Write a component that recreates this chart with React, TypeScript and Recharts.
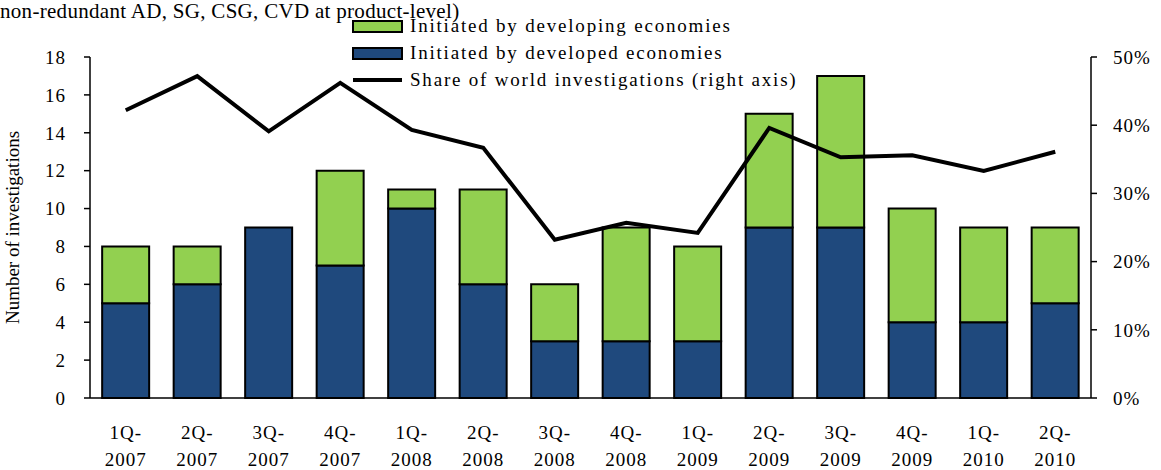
import { ComposedChart, Bar, Line, XAxis, YAxis } from 'recharts'

const quarters = ['1Q-2007', '2Q-2007', '3Q-2007', '4Q-2007', '1Q-2008', '2Q-2008', '3Q-2008', '4Q-2008', '1Q-2009', '2Q-2009', '3Q-2009', '4Q-2009', '1Q-2010', '2Q-2010']
const developed = [5, 6, 9, 7, 10, 6, 3, 3, 3, 9, 9, 4, 4, 5]
const developing = [3, 2, 0, 5, 1, 5, 3, 6, 5, 6, 8, 6, 5, 4]
const worldShare = [42.2, 47.2, 39.1, 46.2, 39.3, 36.7, 23.2, 25.7, 24.2, 39.6, 35.3, 35.6, 33.3, 36.1]
const leftTicks = [0, 2, 4, 6, 8, 10, 12, 14, 16, 18]
const rightTicks = [0, 10, 20, 30, 40, 50]

const data = quarters.map((q, i) => ({
  q,
  developed: developed[i],
  developing: developing[i],
  share: worldShare[i],
}))

const font = 'Liberation Serif, serif'
const tickStyle = { fontFamily: font, fontSize: 19, fill: '#000', letterSpacing: 1 }

function QuarterTick({ x, y, payload }: any) {
  const [a, b] = String(payload.value).split('-')
  return (
    <text x={x} y={y} textAnchor="middle" style={tickStyle}>
      <tspan x={x} dy={33}>{a}-</tspan>
      <tspan x={x} dy={27}>{b}</tspan>
    </text>
  )
}

function LegendBox() {
  const items = [
    { label: 'Initiated by developing economies', color: '#92d050', kind: 'box' },
    { label: 'Initiated by developed economies', color: '#1f497d', kind: 'box' },
    { label: 'Share of world investigations (right axis)', color: '#000', kind: 'line' },
  ]
  return (
    <svg width={480} height={95} style={{ position: 'absolute', left: 345, top: 10 }}>
      {items.map((it, i) => {
        const cy = 16 + i * 27
        return (
          <g key={it.label}>
            {it.kind === 'box' ? (
              <rect x={8} y={cy - 5} width={49} height={11} fill={it.color} stroke="#000" strokeWidth={2} />
            ) : (
              <line x1={8} x2={57} y1={cy} y2={cy} stroke="#000" strokeWidth={4} />
            )}
            <text x={65} y={cy + 6} style={{ fontFamily: font, fontSize: 19, letterSpacing: 1.8, fill: '#000' }}>
              {it.label}
            </text>
          </g>
        )
      })}
    </svg>
  )
}

export default function App() {
  return (
    <div style={{ position: 'absolute', left: 0, top: 0, width: 1161, height: 470, background: '#fff' }}>
      <div style={{ position: 'absolute', left: 0, top: -1, fontFamily: font, fontSize: 21, whiteSpace: 'nowrap', letterSpacing: 0.3 }}>
        non-redundant AD, SG, CSG, CVD at product-level)
      </div>
      <ComposedChart
        width={1161}
        height={470}
        data={data}
        margin={{ top: 57, right: 0, bottom: 12, left: 0 }}
        barCategoryGap="17%"
      >
        <XAxis
          dataKey="q"
          tick={<QuarterTick />}
          tickLine={false}
          axisLine={{ stroke: '#000', strokeWidth: 1.5 }}
          height={60}
          interval={0}
        />
        <YAxis
          yAxisId="left"
          domain={[0, 18]}
          ticks={leftTicks}
          interval={0}
          width={90}
          axisLine={{ stroke: '#000', strokeWidth: 1.5 }}
          tickLine={{ stroke: '#000', strokeWidth: 1.5 }}
          tickSize={6}
          tickMargin={18}
          tick={tickStyle}
          label={{
            value: 'Number of investigations',
            angle: -90,
            position: 'insideLeft',
            offset: 12,
            style: { fontFamily: font, fontSize: 19, fill: '#000', textAnchor: 'middle' },
          }}
        />
        <YAxis
          yAxisId="right"
          orientation="right"
          domain={[0, 50]}
          ticks={rightTicks}
          interval={0}
          width={70}
          axisLine={{ stroke: '#000', strokeWidth: 1.5 }}
          tickLine={{ stroke: '#000', strokeWidth: 1.5 }}
          tickSize={6}
          tickMargin={16}
          tickFormatter={(v: number) => `${v}%`}
          tick={tickStyle}
        />
        <Bar yAxisId="left" dataKey="developed" stackId="s" fill="#1f497d" stroke="#000" strokeWidth={2} isAnimationActive={false} />
        <Bar yAxisId="left" dataKey="developing" stackId="s" fill="#92d050" stroke="#000" strokeWidth={2} isAnimationActive={false} />
        <Line
          yAxisId="right"
          dataKey="share"
          type="linear"
          stroke="#000"
          strokeWidth={4}
          dot={false}
          isAnimationActive={false}
        />
      </ComposedChart>
      <LegendBox />
    </div>
  )
}
